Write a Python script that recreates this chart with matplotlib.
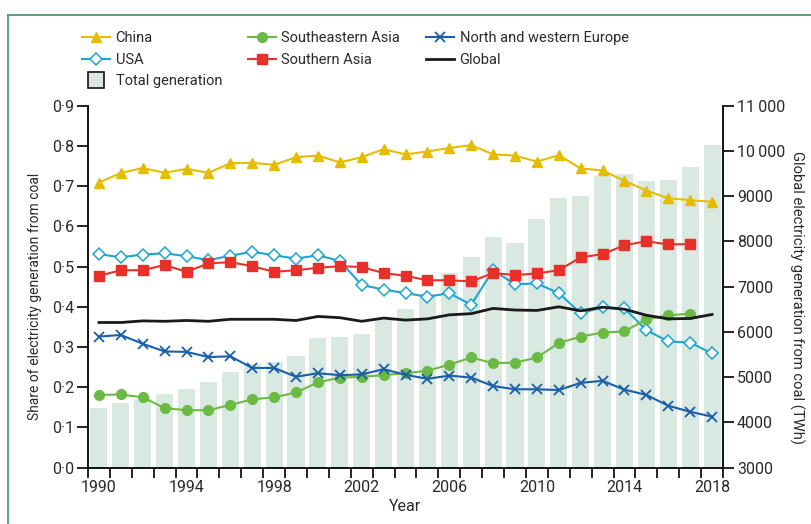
import numpy as np
import matplotlib
matplotlib.use("Agg")
import matplotlib.pyplot as plt
from matplotlib import font_manager
from matplotlib.lines import Line2D

names = {f.name for f in font_manager.fontManager.ttflist}
fam = "DejaVu Sans"
for cand in ["Roboto", "Lato", "Liberation Sans"]:
    if cand in names:
        fam = cand
        break
plt.rcParams["font.family"] = [fam, "DejaVu Sans"]

years = list(range(1990, 2019))
china = [0.709, 0.733, 0.745, 0.733, 0.743, 0.733, 0.757, 0.758, 0.753, 0.772, 0.776,
         0.759, 0.772, 0.792, 0.779, 0.786, 0.795, 0.802, 0.779, 0.776, 0.761, 0.777,
         0.744, 0.739, 0.713, 0.689, 0.670, 0.665, 0.661]
usa = [0.531, 0.523, 0.530, 0.533, 0.526, 0.516, 0.527, 0.537, 0.528, 0.520, 0.528,
       0.514, 0.454, 0.443, 0.434, 0.425, 0.434, 0.405, 0.491, 0.456, 0.458, 0.434,
       0.384, 0.399, 0.396, 0.342, 0.314, 0.311, 0.284]
southern_asia = [0.477, 0.491, 0.491, 0.504, 0.487, 0.508, 0.511, 0.501, 0.487, 0.491, 0.497,
                 0.501, 0.499, 0.484, 0.477, 0.466, 0.466, 0.463, 0.484, 0.479, 0.483, 0.491,
                 0.523, 0.531, 0.553, 0.563, 0.555, 0.556, np.nan]
southeastern_asia = [0.181, 0.182, 0.175, 0.148, 0.143, 0.143, 0.156, 0.170, 0.175, 0.187, 0.212,
                     0.224, 0.226, 0.230, 0.235, 0.241, 0.256, 0.274, 0.260, 0.261, 0.274, 0.310,
                     0.326, 0.336, 0.339, 0.369, 0.379, 0.383, np.nan]
nw_europe = [0.326, 0.330, 0.308, 0.289, 0.288, 0.275, 0.277, 0.248, 0.248, 0.226, 0.235,
             0.230, 0.232, 0.245, 0.231, 0.221, 0.229, 0.224, 0.203, 0.195, 0.195, 0.193,
             0.211, 0.216, 0.194, 0.181, 0.154, 0.139, 0.127]
global_share = [0.361, 0.361, 0.365, 0.364, 0.366, 0.364, 0.369, 0.369, 0.369, 0.366, 0.376,
                0.373, 0.364, 0.372, 0.367, 0.370, 0.380, 0.383, 0.396, 0.392, 0.391, 0.400,
                0.390, 0.399, 0.394, 0.379, 0.370, 0.371, 0.381]
total_generation = [4326, 4430, 4512, 4622, 4746, 4894, 5122, 5300, 5343, 5462, 5870,
                    5888, 5961, 6264, 6507, 6839, 7310, 7656, 8098, 7966, 8496, 8967,
                    9005, 9440, 9491, 9343, 9365, 9639, 10132]
left_ticks = [0.0, 0.1, 0.2, 0.3, 0.4, 0.5, 0.6, 0.7, 0.8, 0.9]
left_labels = ["0·0", "0·1", "0·2", "0·3", "0·4", "0·5", "0·6", "0·7", "0·8", "0·9"]
right_ticks = [3000, 4000, 5000, 6000, 7000, 8000, 9000, 10000, 11000]
right_labels = ["3000", "4000", "5000", "6000", "7000", "8000", "9000", "10\u2009000", "11\u2009000"]
label_years = [1990, 1994, 1998, 2002, 2006, 2010, 2014, 2018]

C_CHINA = "#e4bd00"
C_USA = "#1ea5d0"
C_SA = "#e8302a"
C_SEA = "#6cb944"
C_NWE = "#1a5ea8"
C_BAR = "#d9e8e1"
TXT = "#2a2a2a"

fig = plt.figure(figsize=(8.11, 5.24), dpi=100)
ax = fig.add_axes([88 / 811, 1 - 467.7 / 524, (723 - 88) / 811, (467.7 - 105.7) / 524])
ax2 = ax.twinx()
ax.set_zorder(2)
ax2.set_zorder(1)
ax.patch.set_visible(False)

ax2.bar(years, total_generation, width=0.78, color=C_BAR, zorder=1)

lw = 1.5
ax.plot(years, china, color=C_CHINA, lw=lw, marker="^", ms=7, label="China")
ax.plot(years, usa, color=C_USA, lw=lw, marker="D", ms=6, mfc="white", mec=C_USA, mew=1.1, label="USA")
ax.plot(years, southeastern_asia, color=C_SEA, lw=lw, marker="o", ms=7, label="Southeastern Asia")
ax.plot(years, southern_asia, color=C_SA, lw=lw, marker="s", ms=7, label="Southern Asia")
ax.plot(years, nw_europe, color=C_NWE, lw=lw, marker="x", ms=7, mew=1.3, label="North and western Europe")
ax.plot(years, global_share, color="#1a1a1a", lw=2.0, label="Global")

ax.set_xlim(1989.5, 2018.5)
ax.set_ylim(0, 0.9)
ax2.set_ylim(3000, 11000)

fs = 11.5
ax.set_xticks(np.arange(1989.5, 2019, 1.0))
ax.set_xticklabels([])
ax.set_xticks(label_years, minor=True)
ax.set_xticklabels([str(y) for y in label_years], minor=True, fontsize=fs, color=TXT)
ax.tick_params(axis="x", which="major", length=7, width=1.2, direction="out")
ax.tick_params(axis="x", which="minor", length=0, pad=9)
ax.set_yticks(left_ticks)
ax.set_yticklabels(left_labels, fontsize=fs, color=TXT)
ax.tick_params(axis="y", length=8, width=1.2, pad=2)
ax2.set_yticks(right_ticks)
ax2.set_yticklabels(right_labels, fontsize=fs, color=TXT)
ax2.tick_params(axis="y", length=8, width=1.2, pad=2)

for a in (ax, ax2):
    a.spines["top"].set_visible(False)
    for s in ("left", "right", "bottom"):
        a.spines[s].set_linewidth(1.2)
        a.spines[s].set_color("#111111")

ax.set_xlabel("Year", fontsize=fs, color=TXT, labelpad=3)
ax.set_ylabel("Share of electricity generation from coal", fontsize=10.0, color=TXT)
ax.yaxis.set_label_coords(-0.0724, 0.474)
ax2.set_ylabel("Global electricity generation from coal (TWh)", fontsize=10.6, color=TXT,
               rotation=270)
ax2.yaxis.set_label_coords(1.1276, 0.469)

h = {l.get_label(): l for l in ax.get_lines()}
total_handle = Line2D([], [], ls="none", marker="s", ms=11, mfc=C_BAR, mec="#111111", mew=1.2)
handles = [h["China"], h["USA"], total_handle, h["Southeastern Asia"], h["Southern Asia"],
           h["North and western Europe"], h["Global"]]
labels = ["China", "USA", "Total generation", "Southeastern Asia", "Southern Asia",
          "North and western Europe", "Global"]
fig.legend(handles, labels, ncol=3, loc="upper left", bbox_to_anchor=(82 / 811, 1 - 31 / 524),
           frameon=False, fontsize=10.5, handlelength=1.9, handletextpad=0.4, labelspacing=0.53,
           columnspacing=1.77, borderpad=0, borderaxespad=0, labelcolor=TXT)

frame_col = "#4f9a70"
fig.add_artist(Line2D([8 / 811, 8 / 811], [0, 1 - 15 / 524], transform=fig.transFigure,
                      color=frame_col, lw=1.3))
fig.add_artist(Line2D([8 / 811, 1], [1 - 15 / 524, 1 - 15 / 524], transform=fig.transFigure,
                      color=frame_col, lw=1.3))

fig.savefig("out.png", dpi=100)
